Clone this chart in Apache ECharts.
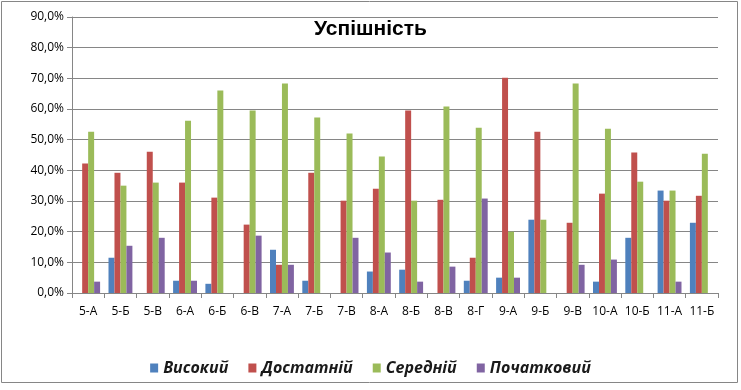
<!DOCTYPE html>
<html><head><meta charset="utf-8">
<script src="https://cdn.jsdelivr.net/npm/echarts@6/dist/echarts.min.js"></script>
<style>html,body{margin:0;padding:0;background:#fff}#c{width:741px;height:390px}</style>
</head><body><div id="c"></div>
<script>
const categories = ['5-А','5-Б','5-В','6-А','6-Б','6-В','7-А','7-Б','7-В','8-А','8-Б','8-В','8-Г','9-А','9-Б','9-В','10-А','10-Б','11-А','11-Б'];
const seriesNames = ['Високий','Достатній','Середній','Початковий'];
const vysokyi =    [0, 11.5, 0, 4.0, 3.0, 0, 14.1, 4.0, 0, 7.0, 7.6, 0, 4.0, 5.0, 23.9, 0, 3.7, 18.0, 33.4, 22.9];
const dostatnii =  [42.2, 39.2, 46.1, 36.0, 31.1, 22.3, 9.2, 39.2, 30.1, 34.0, 59.5, 30.4, 11.5, 70.2, 52.6, 22.9, 32.4, 45.8, 30.1, 31.7];
const serednii =   [52.6, 35.0, 36.0, 56.2, 66.0, 59.5, 68.3, 57.2, 52.0, 44.5, 30.1, 60.8, 53.9, 20.0, 23.9, 68.3, 53.6, 36.3, 33.4, 45.4];
const pochatkovyi = [3.7, 15.4, 18.0, 4.0, 0, 18.7, 9.2, 0, 18.0, 13.2, 3.7, 8.6, 30.8, 5.0, 0, 9.2, 10.9, 0, 3.7, 0];
const colors = ['#4F81BD','#C0504D','#9BBB59','#8064A2'];
const allData = [vysokyi, dostatnii, serednii, pochatkovyi];

const chart = echarts.init(document.getElementById('c'));
const fontFam = 'Open Sans, Liberation Sans, sans-serif';
chart.setOption({
  animation: false,
  color: colors,
  graphic: [{type:'rect', shape:{x:1.5,y:1.5,width:736,height:381}, style:{fill:'none', stroke:'#868686', lineWidth:1}, z:-1}],
  title: {text:'Успішність', left:'center', top:14, textStyle:{fontFamily:'Liberation Sans, sans-serif', fontSize:21, fontWeight:'bold', color:'#000'}},
  legend: {
    top: 355, left: 'center', itemWidth: 8, itemHeight: 9, itemGap: 20, icon: 'rect',
    textStyle: {fontFamily: fontFam, fontSize: 16, fontWeight: 'bold', fontStyle: 'italic', color: '#1a1a1a'},
    data: seriesNames
  },
  grid: {left: 72, right: 23, top: 17, bottom: 97, containLabel: false},
  xAxis: {
    type: 'category', data: categories, boundaryGap: true,
    axisLine: {lineStyle: {color: '#868686'}},
    axisTick: {show: true, length: 5, lineStyle: {color: '#868686'}},
    axisLabel: {fontFamily: fontFam, fontSize: 12, color: '#000', margin: 13, interval: 0}
  },
  yAxis: {
    type: 'value', min: 0, max: 90, interval: 10,
    axisLine: {show: true, lineStyle: {color: '#868686'}},
    axisTick: {show: true, length: 5, lineStyle: {color: '#868686'}},
    splitLine: {lineStyle: {color: '#868686'}},
    axisLabel: {fontFamily: fontFam, fontSize: 12, color: '#000', margin: 8,
      formatter: v => v.toFixed(1).replace('.', ',') + '%'}
  },
  series: seriesNames.map((n, i) => ({
    name: n, type: 'bar', data: allData[i], barGap: '0%', barCategoryGap: '26%',
    itemStyle: {color: colors[i]}
  }))
});
</script></body></html>
